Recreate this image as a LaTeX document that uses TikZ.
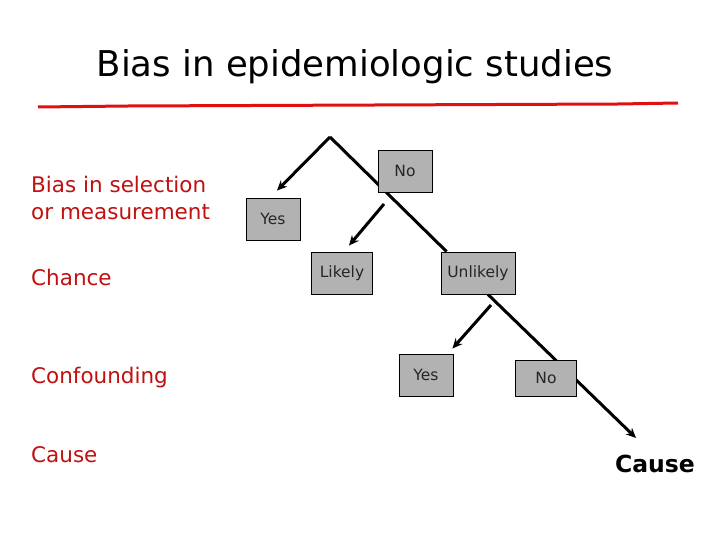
\documentclass[tikz,border=0pt]{standalone}
\usepackage{fontspec}
\setmainfont{DejaVu Sans}
\usetikzlibrary{arrows.meta,backgrounds}
\definecolor{boxgray}{RGB}{178,178,178}
\definecolor{lblred}{RGB}{192,16,16}
\definecolor{rulered}{RGB}{224,16,16}
\tikzset{
  box/.style={draw=black,line width=0.9pt,fill=boxgray,inner sep=0pt,minimum height=42pt,font=\fontsize{15.5}{17}\selectfont,text=black!85},
  lbl/.style={anchor=base west,inner sep=0pt,text=lblred,font=\fontsize{21.5}{24}\selectfont},
  conn/.style={line width=3pt,black},
  arr/.style={conn,-{Stealth[length=10pt,width=9pt]}}
}
\begin{document}
\begin{tikzpicture}[x=1pt,y=-1pt]
\useasboundingbox (0,0) rectangle (720,540);
% title
\node[anchor=base,inner sep=0pt,font=\fontsize{35.5}{38}\selectfont] (title) at (355,77) {Bias in epidemiologic studies};
\draw[rulered,line width=3pt] (38,107) -- (128,106) -- (375,105) -- (618,104) -- (678,103);
% left labels
\node[lbl] (l1) at (31,193) {Bias in selection};
\node[lbl] (l2) at (31,220) {or measurement};
\node[lbl] (l3) at (31,285) {Chance};
\node[lbl] (l4) at (31,383) {Confounding};
\node[lbl] (l5) at (31,462) {Cause};
% boxes
\node[box,minimum width=54pt] (no1) at (405,171) {No};
\node[box,minimum width=54pt] (yes1) at (273,219) {Yes};
\node[box,minimum width=61pt] (lik) at (342,273) {Likely};
\node[box,minimum width=74pt] (unl) at (478,273) {Unlikely};
\node[box,minimum width=54pt] (yes2) at (426,375) {Yes};
\node[box,minimum width=61pt,minimum height=36pt] (no2) at (546,378) {No};
\node[anchor=base,inner sep=0pt,font=\fontsize{23.5}{26}\selectfont\bfseries] (cause) at (655,472) {Cause};
% connectors
\coordinate (apex) at (330,137);
\coordinate (ctip) at (636,438);
\coordinate (a1) at (384,204);
\coordinate (a2) at (491,305);
\begin{scope}[on background layer]
\draw[conn] ([xshift=6pt]unl.north west) -- (apex);
\draw[arr] (apex) -- ([xshift=4pt,yshift=7pt]yes1.north);
\draw[arr] (unl.south) ++(10pt,0) -- (ctip);
\end{scope}
\draw[arr] (a1) -- ([xshift=7pt,yshift=6pt]lik.north);
\draw[arr] (a2) -- ([xshift=-1pt,yshift=5pt]yes2.north east);
\end{tikzpicture}
\end{document}
